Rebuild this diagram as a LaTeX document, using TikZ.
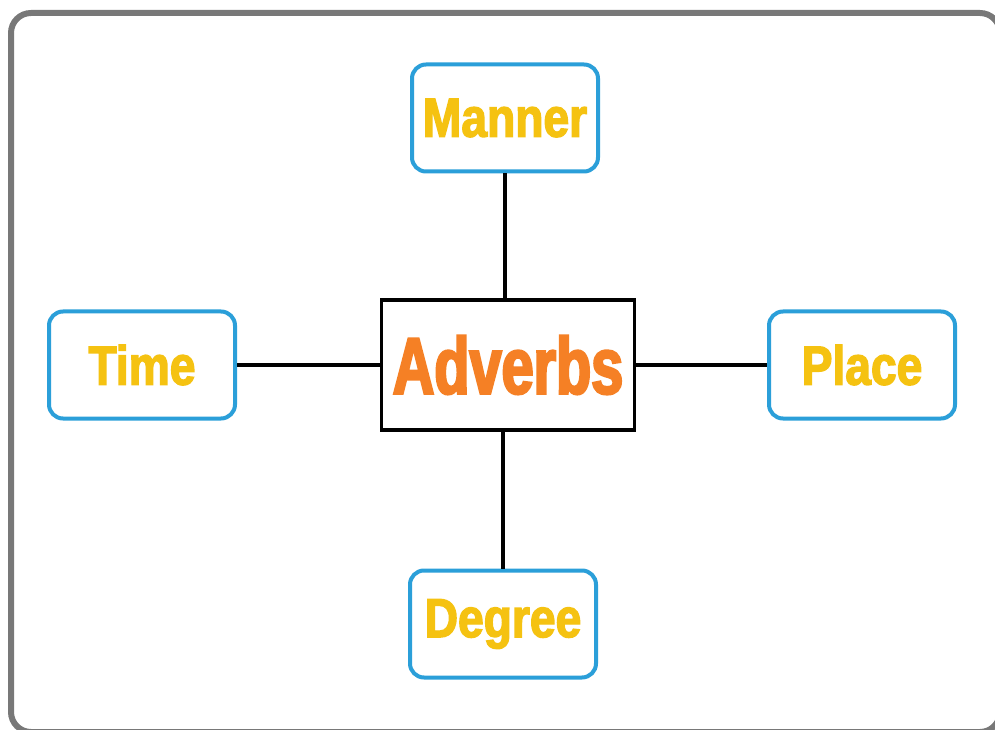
\documentclass[tikz,border=0pt]{standalone}
\usepackage{fontspec}
\usepackage{tikz}
\usetikzlibrary{positioning,calc}
\newfontfamily\labelfont{Liberation Sans}[FakeStretch=0.84, FakeBold=2.5]
\newfontfamily\hubfont{Liberation Sans}[FakeStretch=0.72, FakeBold=3]
\definecolor{frameGray}{RGB}{120,120,120}
\definecolor{boxBlue}{RGB}{43,159,217}
\definecolor{textYellow}{RGB}{245,194,17}
\definecolor{textOrange}{RGB}{245,128,37}
\tikzset{
    every node/.style={inner sep=0pt},
    rectblue/.style={draw=boxBlue, line width=4pt, fill=white, rounded corners=14pt,
        minimum width=186pt, minimum height=107pt, text=textYellow,
        font=\labelfont\bfseries\fontsize{55}{55}\selectfont},
    rectblack/.style={draw=black, line width=3.5pt, fill=white,
        minimum width=253pt, minimum height=130pt, text=textOrange,
        font=\hubfont\bfseries\fontsize{80}{80}\selectfont},
    link/.style={draw=black, line width=3.5pt},
}

\begin{document}
\begin{tikzpicture}[x=1pt, y=1pt]
\useasboundingbox (0,0) rectangle (995,729);
% outer frame, cut off at the right and bottom edges
\draw[frameGray, line width=6pt, rounded corners=20pt] (11,716) rectangle (1000,-3);
\node[rectblack] (adverbs) at (508,364) {Adverbs};
% the four kinds around the centre box
\node[rectblue] (manner) at ($(adverbs) + (-3,247)$) {Manner};
\node[rectblue] (time) at ($(adverbs) + (-366,0)$) {Time};
\node[rectblue] (place) at ($(adverbs) + (354,0)$) {Place};
\node[rectblue] (degree) at ($(adverbs) + (-5,-259)$) {Degree};
\draw[link] (manner.south) -- (manner.south |- adverbs.north);
\draw[link] (time) -- (adverbs);
\draw[link] (adverbs) -- (place);
\draw[link] (degree.north) -- (degree.north |- adverbs.south);
\end{tikzpicture}
\end{document}
